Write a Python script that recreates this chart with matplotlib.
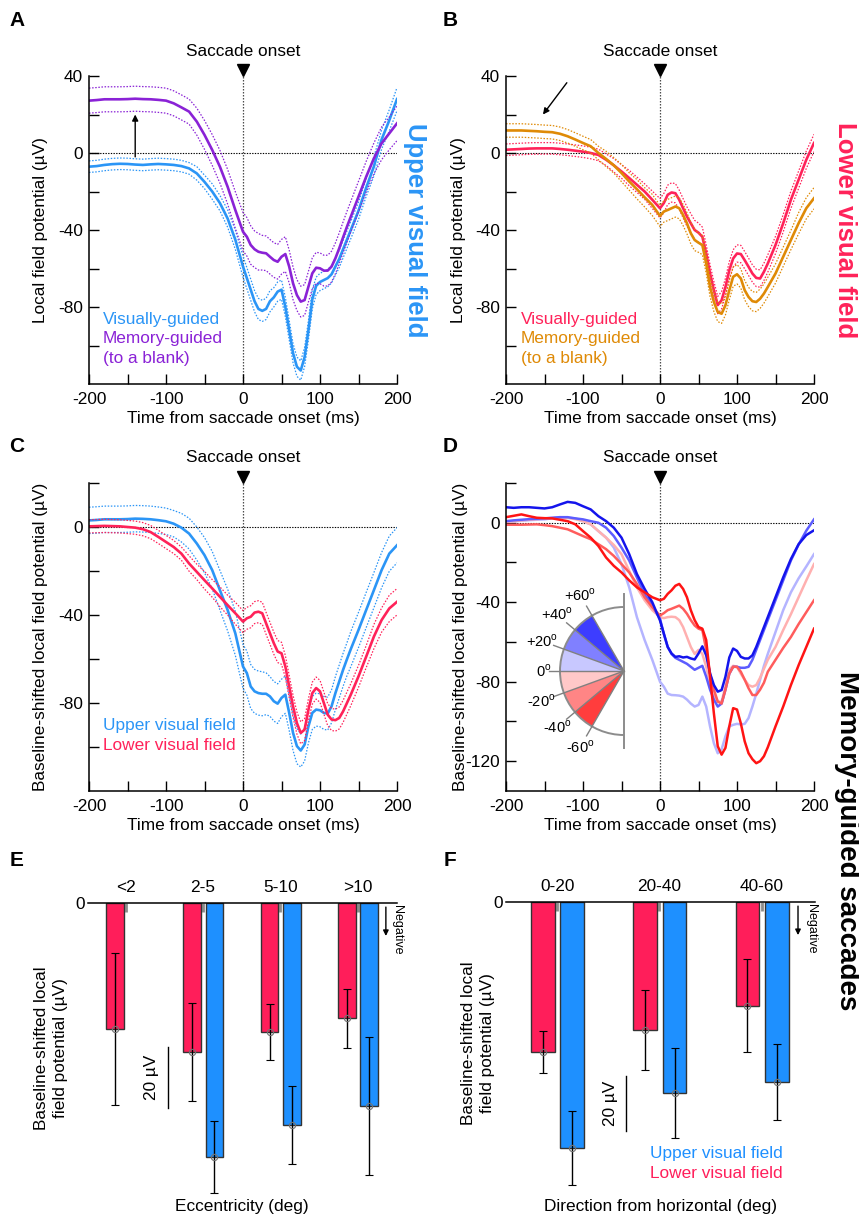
import numpy as np
import matplotlib
matplotlib.use('Agg')
import matplotlib.pyplot as plt
from matplotlib.patches import Wedge, Arc
from matplotlib.transforms import offset_copy

plt.rcParams['font.family'] = ['Liberation Sans', 'DejaVu Sans']
plt.rcParams['mathtext.fontset'] = 'custom'
plt.rcParams['mathtext.rm'] = 'Liberation Sans'
plt.rcParams['axes.unicode_minus'] = False

BLUE = '#2b95f6'
RED = '#ff2259'
PURPLE = '#8a22d6'
ORANGE = '#df8a06'
BAR_BLUE = '#1e90ff'
BAR_RED = '#ff1e5a'
FS = 12.4

W, H = 859, 1216

# time from saccade onset (ms); 5 ms steps around the post-saccadic dips
t = np.concatenate([np.arange(-200, 0, 10), np.arange(0, 141, 5), np.arange(150, 201, 10)])

# ---- A: upper visual field, visually- vs memory-guided ----
a_visual = [-7.1, -6.8, -6.2, -5.8, -5.6, -5.7, -6.0, -6.2, -5.9, -5.7, -5.9, -6.2, -6.8, -8.0, -10.6, -15.0, -20.0, -26.0, -34.0, -45.0,
            -59, -65, -71, -77, -81, -82, -81, -77, -75, -72, -71, -80, -92, -104, -111, -113, -106, -92, -76, -69,
            -67, -66, -65, -63, -59, -55, -50, -45, -40,
            -30, -18, -7, 7, 17, 28]
a_visual_sem = [3, 3, 3, 3, 3, 3, 3, 3, 3, 3, 3, 3, 3, 3, 3.5, 3.5, 4, 4, 4.5, 5,
                5.5, 5.5, 5.5, 5.5, 5.5, 5.5, 5.5, 5.5, 5, 5, 5, 5, 5, 5, 5, 5, 5, 5, 5, 4.5,
                4.5, 4.5, 4.5, 4.5, 4.5, 4.5, 4.5, 4.5, 4.5,
                4.5, 4.5, 5, 5, 5.5, 6]
a_memory = [27.2, 27.5, 27.9, 27.9, 27.9, 28.0, 28.2, 28.0, 27.9, 27.6, 27.2, 25.8, 23.7, 21.5, 16.3, 9.4, 1.6, -7.1, -17.5, -29.6,
            -40.9, -43.5, -47.8, -50.0, -51.3, -51.8, -52.1, -53.9, -55.6, -56.5, -53.9, -52.5, -59.0, -67.7, -73.8, -77.2, -76.4, -69.4, -62.5, -59.6,
            -59.9, -61.1, -61.1, -59.0, -54.7, -49.5, -43.8, -38.3, -33.1,
            -22.7, -12.3, -2.8, 5.0, 10.2, 15.4]
a_memory_sem = [6.5, 6.5, 6.5, 6.5, 6.5, 6.5, 6.5, 6.5, 6.5, 6.5, 6.5, 6.5, 6.5, 6.5, 7, 7.5, 8, 8.5, 9, 9.5,
                10, 10, 10, 9.5, 9.5, 9, 9, 9, 9, 9, 9, 9, 8.5, 8.5, 8, 8, 8, 8, 8, 8,
                8, 8, 8, 8, 8, 8, 8, 8, 8,
                8, 8, 8, 8.5, 8.5, 9]

# ---- B: lower visual field, visually- vs memory-guided ----
b_visual = [1.7, 1.9, 2.1, 2.3, 2.4, 2.4, 2.4, 2.1, 1.7, 1.2, 0.7, 0.0, -1.0, -3.5, -6.4, -9.6, -13.0, -16.5, -20.0, -24.3,
            -28.7, -26.0, -21.7, -20.5, -20.9, -24.3, -28.7, -33.0, -36.5, -40.0, -41.4, -43.5, -52.2, -62.6, -71.3, -79.0, -76.5, -69.6, -60.9, -54.8,
            -52.2, -52.5, -55.7, -59.1, -62.6, -64.9, -65.2, -61.7, -57.4,
            -47.8, -36.5, -24.3, -13.9, -3.5, 5.2]
b_visual_sem = [3, 3, 3, 3, 3, 3, 3, 3, 3, 3, 3, 3, 3, 3, 3.5, 3.5, 4, 4, 4, 4.5,
                5, 5, 5, 5, 5, 5, 5, 5, 5, 5, 5, 5, 4.5, 4.5, 4.5, 4.5, 4.5, 4.5, 4.5, 4.5,
                4.5, 4.5, 4.5, 4.5, 4.5, 4.5, 4.5, 4.5, 4.5,
                4.5, 4.5, 4.5, 4.5, 4.5, 4.5]
b_memory = [11.7, 11.7, 11.7, 11.5, 11.3, 11.0, 10.8, 10.0, 8.7, 7.0, 5.2, 3.5, 0.0, -3.1, -6.4, -10.4, -14.8, -18.8, -23.0, -27.0,
            -32.7, -30.4, -29.6, -28.7, -27.8, -28.7, -32.2, -36.5, -41.7, -45.2, -46.6, -47.8, -57.4, -69.6, -77.4, -82.6, -83.5, -79.1, -71.3, -64.3,
            -63.0, -65.2, -71.3, -74.8, -77.0, -77.4, -75.7, -73.0, -69.6,
            -62.6, -53.9, -45.2, -36.5, -28.7, -23.5]
b_memory_sem = [3.5, 3.5, 3.5, 3.5, 3.5, 3.5, 3.5, 3.5, 3.5, 3.5, 3.5, 3.5, 3.5, 4, 4, 4.5, 4.5, 5, 5, 5.5,
                5.5, 5.5, 5.5, 5.5, 5.5, 5.5, 5.5, 5.5, 5.5, 5.5, 5, 5, 5, 5, 5, 5, 5, 5, 5, 5,
                5, 5, 5, 5, 5, 5, 5, 5, 5,
                5, 5, 5, 5.5, 5.5, 5.5]

# ---- C: memory-guided, baseline-shifted, upper vs lower ----
c_upper = [3.0, 3.2, 3.5, 3.5, 3.5, 3.6, 3.8, 3.7, 3.5, 3.1, 2.6, 1.5, -0.3, -3.0, -7.5, -12.8, -19.6, -28.7, -37.7, -48.3,
           -63.4, -66.4, -72.5, -74.7, -75.5, -75.8, -75.8, -77.0, -79.2, -80.3, -77.7, -76.2, -84.5, -93.6, -99.6, -101.6, -98.9, -90.6, -84.5, -83.0,
           -83.3, -84.5, -84.8, -81.5, -75.5, -70.2, -64.9, -60.1, -55.5,
           -46.8, -37.7, -28.7, -19.6, -12.1, -8.3]
c_upper_sem = [6, 6, 6, 6, 6, 6, 6, 6, 6, 6, 6, 6, 6.5, 7, 7.5, 8, 8.5, 9, 9.5, 10,
               10, 10, 10, 10, 10, 10, 9.5, 9, 9, 9, 8.5, 8.5, 8, 8, 8, 7.5, 7.5, 7.5, 7.5, 7.5,
               7.5, 7.5, 7.5, 7.5, 7.5, 7.5, 7.5, 7.5, 8,
               8, 8, 8, 8, 8, 8]
c_lower = [0.3, 0.4, 0.5, 0.4, 0.3, 0.0, -0.3, -1.0, -2.3, -4.5, -6.8, -9.1, -12.1, -16.6, -20.4, -24.2, -27.9, -31.7, -35.5, -39.2,
           -43.0, -41.5, -40.8, -38.9, -38.5, -39.2, -43.8, -48.3, -52.8, -56.6, -57.4, -63.4, -72.5, -81.5, -89.1, -93.6, -92.1, -83.0, -75.5, -73.2,
           -74.7, -80.0, -85.3, -87.5, -87.8, -86.8, -83.8, -80.0, -76.2,
           -67.9, -58.9, -49.8, -42.3, -37.0, -34.0]
c_lower_sem = [3, 3, 3, 3, 3, 3, 3, 3, 3, 3, 3, 3, 3, 3.5, 3.5, 4, 4, 4.5, 4.5, 5,
               5, 5, 5, 5, 5, 5, 5, 5, 5, 5, 5, 5, 5, 5, 5, 5, 5, 5, 5, 5,
               5, 5, 5, 5, 5, 5, 5, 5, 5,
               5, 5, 5.5, 5.5, 6, 6]

# ---- D: memory-guided, split by direction from horizontal (deg) ----
d_pos40_60 = [7.8, 7.5, 7.8, 7.8, 7.5, 7.2, 7.8, 9.2, 10.5, 10.0, 8.3, 6.7, 3.3, 0.8, -2.5, -7.5, -15.8, -25.8, -33.3, -40.0,
              -49.2, -55.8, -62.5, -65.8, -67.5, -67.2, -67.8, -67.5, -68.3, -68.8, -65.8, -62.2, -66.7, -75.8, -81.7, -85.0, -84.2, -77.5, -67.8, -63.3,
              -64.5, -67.5, -68.3, -68.3, -66.7, -62.5, -57.5, -52.5, -47.5,
              -37.5, -27.5, -18.3, -10.8, -6.2, -3.8]
d_pos20_40 = [0.8, 1.2, 1.5, 1.8, 2.0, 2.2, 2.5, 2.8, 2.8, 2.2, 1.7, 0.8, 0.0, -2.5, -6.7, -12.5, -19.0, -27.5, -36.0, -41.7,
              -48.3, -56.0, -62.5, -66.0, -68.0, -69.0, -70.0, -71.0, -72.5, -74.0, -73.0, -72.0, -77.5, -84.0, -89.0, -92.5, -91.0, -84.0, -76.0, -72.5,
              -72.5, -73.0, -73.0, -72.5, -69.0, -64.0, -59.0, -54.0, -49.0,
              -39.0, -29.0, -19.0, -11.0, -4.0, 1.7]
d_pos0_20 = [0.5, 0.8, 1.0, 1.3, 1.5, 1.7, 2.2, 2.8, 2.5, 2.2, 0.8, -0.8, -4.2, -7.5, -12.5, -20.8, -32.5, -47.5, -59.0, -69.0,
             -80.0, -82.5, -86.0, -86.7, -86.8, -87.0, -87.5, -89.0, -91.0, -92.5, -91.7, -87.5, -92.5, -102.5, -111.0, -116.0, -114.0, -107.5, -102.5, -101.7,
             -101.2, -101.5, -101.2, -98.3, -92.5, -86.0, -79.0, -72.0, -66.0,
             -55.0, -44.0, -35.0, -28.0, -22.0, -15.8]
d_neg0_20 = [0.5, 0.8, 1.2, 1.5, 1.8, 2.2, 2.4, 2.5, 2.5, 1.8, 0.8, -0.8, -4.2, -7.5, -11.2, -15.8, -24.2, -32.5, -39.0, -44.0,
             -47.5, -48.0, -47.5, -47.3, -47.5, -49.0, -52.5, -57.5, -62.5, -66.0, -64.0, -66.0, -72.5, -81.0, -86.0, -90.0, -90.0, -82.5, -74.0, -72.0,
             -72.5, -76.0, -79.0, -81.7, -82.5, -81.7, -78.0, -73.5, -69.0,
             -62.5, -54.0, -46.0, -37.5, -29.0, -20.8]
d_neg20_40 = [-1.0, -1.0, -1.0, -0.9, -0.8, -1.2, -1.7, -2.5, -3.3, -5.0, -6.7, -8.3, -10.8, -13.3, -16.7, -20.8, -25.0, -30.8, -37.5, -42.5,
              -46.7, -45.5, -44.0, -43.3, -42.5, -41.7, -43.3, -45.8, -49.0, -51.7, -53.3, -54.0, -64.0, -76.0, -84.0, -90.0, -91.0, -84.0, -76.0, -72.5,
              -72.5, -75.0, -79.0, -83.3, -86.7, -86.7, -84.0, -80.5, -75.0,
              -69.0, -63.0, -57.5, -51.0, -45.0, -39.0]
d_neg40_60 = [2.8, 3.5, 4.2, 3.3, 2.5, 2.3, 2.2, 1.5, 0.8, -0.8, -4.2, -7.5, -11.7, -17.5, -21.7, -25.0, -29.0, -32.5, -35.0, -37.5,
              -39.0, -38.3, -35.8, -34.0, -31.7, -30.8, -33.3, -37.5, -44.0, -49.0, -52.5, -53.3, -59.0, -77.5, -96.0, -112.5, -116.7, -113.3, -102.5, -93.3,
              -94.0, -101.0, -110.0, -116.0, -119.0, -121.0, -120.0, -117.5, -113.0,
              -102.5, -92.5, -81.7, -71.7, -62.5, -53.3]
dir_bins = [(40, 60), (20, 40), (0, 20), (-20, 0), (-40, -20), (-60, -40)]
dir_line_colors = ['#1414ec', '#5c5cff', '#b4b4ff', '#ffb0b0', '#ff5c5c', '#ff1414']
dir_wedge_colors = ['#3d3dff', '#8080ff', '#c8c8ff', '#ffc8c8', '#ff8585', '#ff3d3d']
dir_labels = [60, 40, 20, 0, -20, -40, -60]

# ---- E/F: baseline-shifted LFP (uV) per bin, mean and sem ----
ecc_groups = ['<2', '2-5', '5-10', '>10']
ecc_lower = [-41.3, -48.9, -42.3, -37.8]
ecc_lower_err = [25.0, 16.0, 9.2, 9.7]
ecc_upper = [np.nan, -83.3, -72.8, -66.6]
ecc_upper_err = [np.nan, 11.8, 12.8, 22.7]

ang_groups = ['0-20', '20-40', '40-60']
ang_lower = [-54.2, -46.2, -37.5]
ang_lower_err = [7.6, 14.4, 16.8]
ang_upper = [-88.8, -69.0, -65.0]
ang_upper_err = [13.5, 16.3, 13.7]


fig = plt.figure(figsize=(W / 100, H / 100), dpi=100)


def px_rect(x0, y0, x1, y1):
    return [x0 / W, 1 - y1 / H, (x1 - x0) / W, (y1 - y0) / H]


def trace_axes(rect, ylim, yticks, ylabel, label_x):
    ax = fig.add_axes(rect)
    ax.set_xlim(-200, 200)
    ax.set_ylim(*ylim)
    for s in ('top', 'right'):
        ax.spines[s].set_visible(False)
    for s in ('left', 'bottom'):
        ax.spines[s].set_linewidth(1.1)
    xt = np.arange(-200, 201, 50)
    ax.set_xticks(xt)
    ax.set_xticklabels([str(v) if v % 100 == 0 else '' for v in xt])
    ax.set_yticks(yticks)
    ax.set_yticklabels([str(v) if v % 40 == 0 else '' for v in yticks])
    ax.tick_params(direction='in', length=7, width=1, labelsize=FS)
    ax.tick_params(axis='x', pad=5.5)
    ax.tick_params(axis='y', pad=4.5)
    ax.axhline(0, color='k', ls=(0, (1.2, 1.2)), lw=0.8, zorder=1)
    ax.axvline(0, color='0.3', ls=(0, (1.2, 1.2)), lw=0.9, zorder=1)
    tri = offset_copy(ax.get_xaxis_transform(), fig=fig, y=4.5, units='points')
    ax.plot([0], [1], marker='v', ms=9, color='k', transform=tri, clip_on=False)
    txt = offset_copy(ax.get_xaxis_transform(), fig=fig, y=18, units='points')
    ax.text(0, 1, 'Saccade onset', transform=txt, ha='center', va='center', fontsize=FS)
    ax.set_xlabel('Time from saccade onset (ms)', fontsize=FS)
    ax.xaxis.set_label_coords(0.5, -0.088)
    ax.xaxis.label.set_va('top')
    ax.set_ylabel(ylabel, fontsize=FS)
    ax.yaxis.set_label_coords(label_x, 0.5)
    return ax


def mean_sem(ax, y, sem, color):
    y = np.asarray(y, float)
    sem = np.asarray(sem, float)
    for b in (y - sem, y + sem):
        ax.plot(t, b, color=color, lw=0.9, ls=(0, (1.2, 1.3)))
    ax.plot(t, y, color=color, lw=1.9)


# A
axA = trace_axes(px_rect(89, 76, 397, 384), (-120, 40), np.arange(-100, 41, 20),
                 'Local field potential (\u00b5V)', -0.133)
mean_sem(axA, a_visual, a_visual_sem, BLUE)
mean_sem(axA, a_memory, a_memory_sem, PURPLE)
axA.annotate('', xy=(-140, 20), xytext=(-140, -2),
             arrowprops=dict(arrowstyle='-|>', color='k', lw=1, mutation_scale=9, shrinkA=0, shrinkB=0))
for yy, s, c in [(0.211, 'Visually-guided', BLUE), (0.149, 'Memory-guided', PURPLE), (0.084, '(to a blank)', PURPLE)]:
    axA.text(0.045, yy, s, color=c, transform=axA.transAxes, fontsize=FS, va='center')

# B
axB = trace_axes(px_rect(506, 76, 814, 384), (-120, 40), np.arange(-100, 41, 20),
                 'Local field potential (\u00b5V)', -0.13)
mean_sem(axB, b_visual, b_visual_sem, RED)
mean_sem(axB, b_memory, b_memory_sem, ORANGE)
axB.annotate('', xy=(-152, 20), xytext=(-121, 36.5),
             arrowprops=dict(arrowstyle='-|>', color='k', lw=1, mutation_scale=9, shrinkA=0, shrinkB=0))
for yy, s, c in [(0.211, 'Visually-guided', RED), (0.149, 'Memory-guided', ORANGE), (0.084, '(to a blank)', ORANGE)]:
    axB.text(0.049, yy, s, color=c, transform=axB.transAxes, fontsize=FS, va='center')

# C
axC = trace_axes(px_rect(89, 483, 397, 791), (-120, 20), np.arange(-100, 21, 20),
                 'Baseline-shifted local field potential (\u00b5V)', -0.133)
mean_sem(axC, c_upper, c_upper_sem, BLUE)
mean_sem(axC, c_lower, c_lower_sem, RED)
axC.text(0.045, 0.214, 'Upper visual field', color=BLUE, transform=axC.transAxes, fontsize=FS, va='center')
axC.text(0.045, 0.149, 'Lower visual field', color=RED, transform=axC.transAxes, fontsize=FS, va='center')

# D
axD = trace_axes(px_rect(506, 483, 814, 791), (-135, 20), np.arange(-120, 21, 20),
                 'Baseline-shifted local field potential (\u00b5V)', -0.123)
d_series = [d_pos40_60, d_pos20_40, d_pos0_20, d_neg0_20, d_neg20_40, d_neg40_60]
for k in (2, 3, 1, 4, 0, 5):
    axD.plot(t, d_series[k], color=dir_line_colors[k], lw=1.8)

# direction key: fan of wedges pointing to the left
pie = fig.add_axes(px_rect(494, 571, 644, 771))
pie.set_xlim(-130, 20)
pie.set_ylim(-100, 100)
pie.set_aspect('equal')
pie.axis('off')
R = 64
for (a0, a1), c in zip(dir_bins, dir_wedge_colors):
    lo, hi = min(a0, a1), max(a0, a1)
    pie.add_patch(Wedge((0, 0), R, 180 - hi, 180 - lo, facecolor=c, edgecolor='none'))
pie.add_patch(Arc((0, 0), 2 * R, 2 * R, theta1=90, theta2=270, color='0.55', lw=1.4))
pie.plot([0, 0], [1.2 * R, -1.2 * R], color='0.55', lw=1.4)
for a in dir_labels:
    th = np.radians(180 - a)
    pie.plot([0, 1.17 * R * np.cos(th)], [0, 1.17 * R * np.sin(th)], color='0.5', lw=1.0)
    r_lab = 1.26 * R if a == 0 else 1.37 * R
    lab = ('0' if a == 0 else f'{a:+d}') + r'$^\mathrm{o}$'
    pie.text(r_lab * np.cos(th), r_lab * np.sin(th), lab, ha='center', va='center', fontsize=10.5)


# E / F bar panels
def bar_axes(rect, groups, lower, lower_err, upper, upper_err, ylim, xlim):
    ax = fig.add_axes(rect)
    x = np.arange(len(groups))
    ax.set_xlim(*xlim)
    ax.set_ylim(*ylim)
    for s in ('left', 'right', 'bottom'):
        ax.spines[s].set_visible(False)
    ax.spines['top'].set_linewidth(1.1)
    ax.xaxis.tick_top()
    ax.set_xticks(x)
    ax.set_xticklabels(groups, fontsize=FS)
    ax.set_yticks([0])
    ax.set_yticklabels(['0'], fontsize=FS)
    ax.tick_params(axis='x', length=0, pad=5.5)
    ax.tick_params(axis='y', length=0, pad=2.5)
    ax.vlines(x, 0.97, 1.0, color='0.55', lw=2, transform=ax.get_xaxis_transform())
    for off, vals, errs, col in [(-0.14, lower, lower_err, BAR_RED), (0.147, upper, upper_err, BAR_BLUE)]:
        vals = np.asarray(vals, float)
        errs = np.asarray(errs, float)
        m = ~np.isnan(vals)
        ax.bar(x[m] + off, vals[m], width=0.23, color=col, edgecolor='0.2', lw=1, zorder=2)
        ax.errorbar(x[m] + off, vals[m], yerr=errs[m], fmt='o', ms=4.5, mfc='none', mec='0.45', mew=0.8,
                    ecolor='k', elinewidth=1, capsize=3, capthick=1, zorder=3, clip_on=False)
    return ax


axE = bar_axes(px_rect(88, 903, 397, 1195), ecc_groups, ecc_lower, ecc_lower_err, ecc_upper, ecc_upper_err,
               (-95.7, 0), (-0.49, 3.51))
axE.plot([0.54, 0.54], [-47.2, -67.2], color='k', lw=1)
axE.text(0.336, -57.2, '20 \u00b5V', rotation=90, ha='center', va='center', fontsize=FS)
axE.annotate('', xy=(0.964, 0.887), xytext=(0.964, 0.986), xycoords='axes fraction',
             arrowprops=dict(arrowstyle='-|>', color='k', lw=1, mutation_scale=8, shrinkA=0, shrinkB=0))
axE.text(1.0, 0.993, 'Negative', rotation=-90, ha='center', va='top', fontsize=9, transform=axE.transAxes)

axF = bar_axes(px_rect(506, 902, 815, 1195), ang_groups, ang_lower, ang_lower_err, ang_upper, ang_upper_err,
               (-105.8, 0), (-0.5, 2.52))
axF.plot([0.67, 0.67], [-62.8, -82.8], color='k', lw=1)
axF.text(0.52, -72.8, '20 \u00b5V', rotation=90, ha='center', va='center', fontsize=FS)
axF.annotate('', xy=(0.945, 0.887), xytext=(0.945, 0.986), xycoords='axes fraction',
             arrowprops=dict(arrowstyle='-|>', color='k', lw=1, mutation_scale=8, shrinkA=0, shrinkB=0))
axF.text(0.987, 0.993, 'Negative', rotation=-90, ha='center', va='top', fontsize=9, transform=axF.transAxes)
axF.text(0.896, 0.14, 'Upper visual field', color=BAR_BLUE, ha='right', va='center', fontsize=FS, transform=axF.transAxes)
axF.text(0.896, 0.075, 'Lower visual field', color=BAR_RED, ha='right', va='center', fontsize=FS, transform=axF.transAxes)

fig.text(51 / W, 1 - 1048 / H, 'Baseline-shifted local\nfield potential (\u00b5V)', rotation=90,
         ha='center', va='center', fontsize=FS, linespacing=1.4)
fig.text(478 / W, 1 - 1043 / H, 'Baseline-shifted local\nfield potential (\u00b5V)', rotation=90,
         ha='center', va='center', fontsize=FS, linespacing=1.4)
fig.text(242 / W, 1 - 1206 / H, 'Eccentricity (deg)', ha='center', va='center', fontsize=FS)
fig.text(660 / W, 1 - 1206 / H, 'Direction from horizontal (deg)', ha='center', va='center', fontsize=FS)

# side titles
fig.text(415 / W, 1 - 230 / H, 'Upper visual field', rotation=-90, color=BLUE, fontsize=18.5,
         fontweight='bold', ha='center', va='center')
fig.text(845 / W, 1 - 230 / H, 'Lower visual field', rotation=-90, color=RED, fontsize=18.5,
         fontweight='bold', ha='center', va='center')
fig.text(847 / W, 1 - 841 / H, 'Memory-guided saccades', rotation=-90, color='k', fontsize=20,
         fontweight='bold', ha='center', va='center')

for s, x, y in [('A', 17, 20), ('B', 450, 20), ('C', 17, 447), ('D', 450, 447), ('E', 17, 860), ('F', 450, 860)]:
    fig.text(x / W, 1 - y / H, s, fontsize=15, fontweight='bold', ha='center', va='center')

fig.savefig('out.png', dpi=100)
